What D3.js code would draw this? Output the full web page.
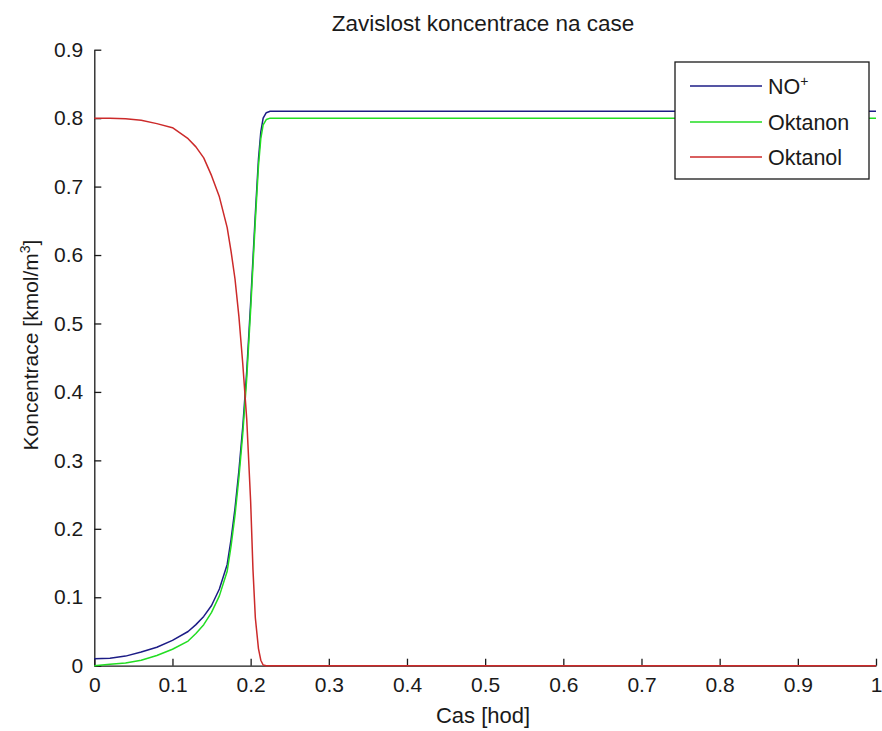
<!DOCTYPE html>
<html>
<head>
<meta charset="utf-8">
<script src="https://cdn.jsdelivr.net/npm/d3@7"></script>
<style>
  body { margin: 0; background: #fff; }
  text { font-family: "Liberation Sans", Arial, sans-serif; fill: #1a1a1a; }
</style>
</head>
<body>
<script>
// cas [hod]
var cas = [0, 0.02, 0.04, 0.06, 0.08, 0.10, 0.12, 0.13, 0.14, 0.15, 0.16, 0.17, 0.175, 0.18, 0.185,
           0.19, 0.195, 0.20, 0.203, 0.206, 0.21, 0.213, 0.216, 0.22, 0.225, 0.23, 0.3, 0.5, 0.75, 1.0];

// koncentrace [kmol/m3]
var noPlus  = [0.010, 0.011, 0.014, 0.020, 0.027, 0.037, 0.050, 0.060, 0.072, 0.088, 0.112, 0.148, 0.185, 0.230, 0.285,
               0.350, 0.430, 0.530, 0.595, 0.660, 0.740, 0.780, 0.800, 0.808, 0.810, 0.810, 0.810, 0.810, 0.810, 0.810];
var oktanon = [0.000, 0.002, 0.004, 0.008, 0.015, 0.024, 0.036, 0.047, 0.060, 0.078, 0.102, 0.138, 0.175, 0.220, 0.275,
               0.340, 0.420, 0.520, 0.585, 0.650, 0.730, 0.770, 0.790, 0.798, 0.800, 0.800, 0.800, 0.800, 0.800, 0.800];
var oktanol = [0.800, 0.800, 0.799, 0.797, 0.792, 0.786, 0.770, 0.758, 0.742, 0.716, 0.685, 0.640, 0.605, 0.565, 0.510,
               0.440, 0.360, 0.240, 0.140, 0.070, 0.025, 0.008, 0.001, 0.000, 0.000, 0.000, 0.000, 0.000, 0.000, 0.000];

var seriesNames  = ["NO", "Oktanon", "Oktanol"];
var seriesColors = ["#1c1c86", "#22dd22", "#cc2a2a"];

var xTicks = [0, 0.1, 0.2, 0.3, 0.4, 0.5, 0.6, 0.7, 0.8, 0.9, 1];
var xTickLabels = ["0", "0.1", "0.2", "0.3", "0.4", "0.5", "0.6", "0.7", "0.8", "0.9", "1"];
var yTicks = [0, 0.1, 0.2, 0.3, 0.4, 0.5, 0.6, 0.7, 0.8, 0.9];
var yTickLabels = ["0", "0.1", "0.2", "0.3", "0.4", "0.5", "0.6", "0.7", "0.8", "0.9"];

var W = 882, H = 731;
var margin = {top: 49.7, right: 6, bottom: 65.3, left: 94.3};
var width = W - margin.left - margin.right,
    height = H - margin.top - margin.bottom;

var svg = d3.select("body").append("svg")
    .attr("width", W)
    .attr("height", H);

var g = svg.append("g")
    .attr("transform", "translate(" + margin.left + "," + margin.top + ")");

var x = d3.scaleLinear().domain([0, 1]).range([0, width]);
var y = d3.scaleLinear().domain([0, 0.9]).range([height, 0]);

// axes, ticks point inward like matlab
var xAxis = d3.axisBottom(x)
    .tickValues(xTicks)
    .tickFormat(function(d, i) { return xTickLabels[i]; })
    .tickSizeInner(-7).tickSizeOuter(0).tickPadding(11);
var yAxis = d3.axisLeft(y)
    .tickValues(yTicks)
    .tickFormat(function(d, i) { return yTickLabels[i]; })
    .tickSizeInner(-7).tickSizeOuter(0).tickPadding(11);

var gx = g.append("g")
    .attr("transform", "translate(0," + height + ")")
    .call(xAxis);
var gy = g.append("g").call(yAxis);

[gx, gy].forEach(function(a) {
    a.selectAll("path, line").attr("stroke", "#1a1a1a").attr("stroke-width", 1.3);
    a.selectAll("text").style("font-size", "21px").attr("fill", "#1a1a1a");
});

// lines
var series = [noPlus, oktanon, oktanol];
var line = d3.line()
    .x(function(d) { return x(d[0]); })
    .y(function(d) { return y(d[1]); });

series.forEach(function(s, k) {
    g.append("path")
        .datum(cas.map(function(t, i) { return [t, s[i]]; }))
        .attr("fill", "none")
        .attr("stroke", seriesColors[k])
        .attr("stroke-width", 1.5)
        .attr("stroke-linejoin", "round")
        .attr("d", line);
});

// title and labels
svg.append("text")
    .attr("x", 483).attr("y", 31)
    .attr("text-anchor", "middle")
    .style("font-size", "22.5px")
    .text("Zavislost koncentrace na case");

svg.append("text")
    .attr("x", 483).attr("y", 723)
    .attr("text-anchor", "middle")
    .style("font-size", "22px")
    .text("Cas [hod]");

var yl = svg.append("text")
    .attr("transform", "translate(37.5,345) rotate(-90)")
    .attr("text-anchor", "middle")
    .style("font-size", "21px");
yl.append("tspan").text("Koncentrace [kmol/m");
yl.append("tspan").attr("dy", -8).style("font-size", "14px").text("3");
yl.append("tspan").attr("dy", 8).text("]");

// legend
var leg = svg.append("g");
leg.append("rect")
    .attr("x", 675).attr("y", 62)
    .attr("width", 194).attr("height", 117)
    .attr("fill", "#fff")
    .attr("stroke", "#1a1a1a")
    .attr("stroke-width", 1.3);

var legY = [86, 122, 157];
seriesNames.forEach(function(name, k) {
    leg.append("line")
        .attr("x1", 690).attr("x2", 762)
        .attr("y1", legY[k]).attr("y2", legY[k])
        .attr("stroke", seriesColors[k])
        .attr("stroke-width", 1.5);
    var t = leg.append("text")
        .attr("x", 768).attr("y", legY[k] + 8)
        .style("font-size", "21.5px");
    t.append("tspan").text(name);
    if (k === 0) {
        t.append("tspan").attr("dy", -8).style("font-size", "14px").text("+");
    }
});
</script>
</body>
</html>
